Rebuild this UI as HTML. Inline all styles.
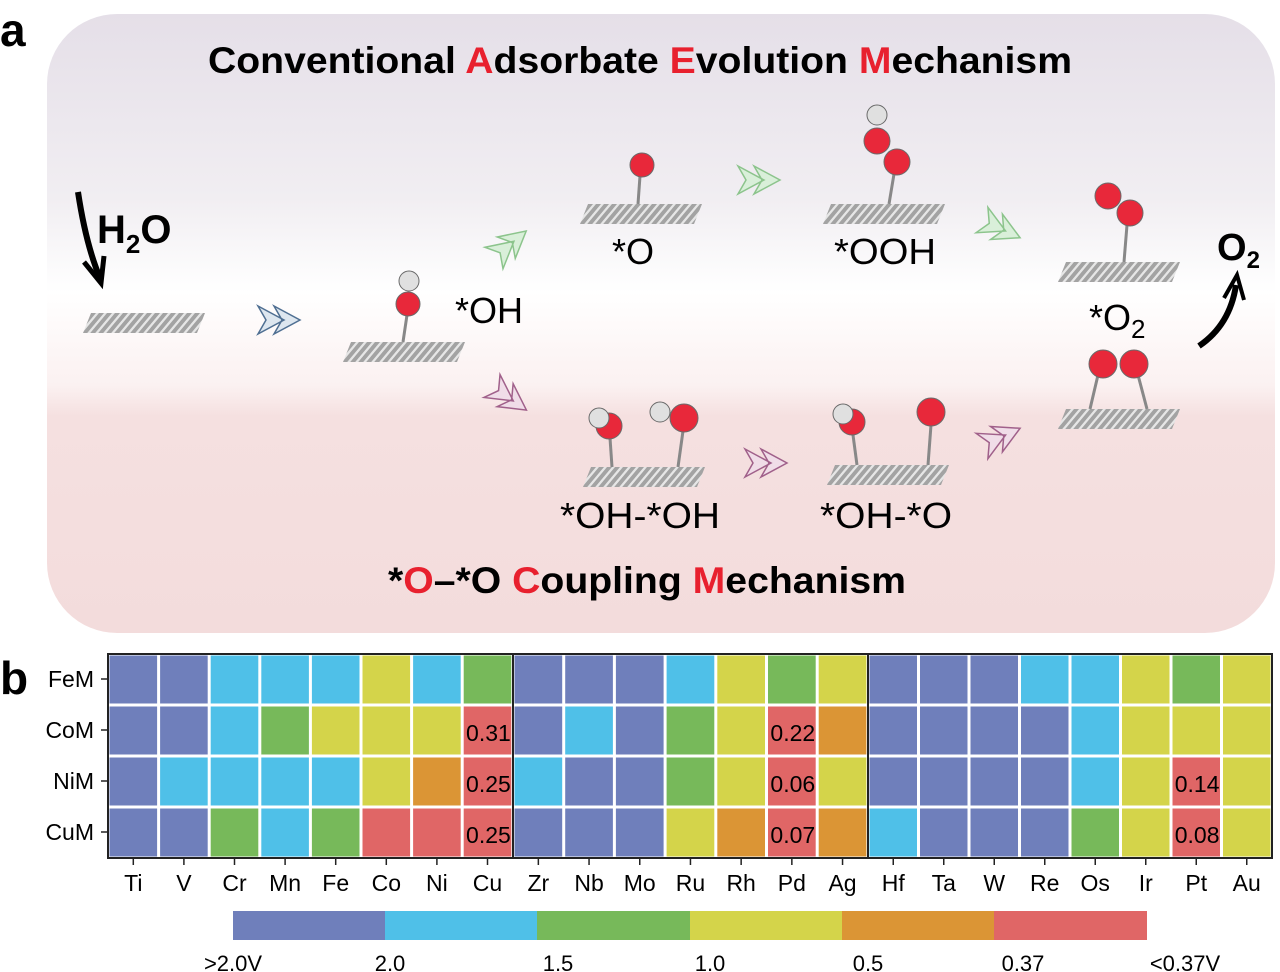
<!DOCTYPE html>
<html><head><meta charset="utf-8"><style>
html,body{margin:0;padding:0;background:#fff}
svg{display:block}
text{font-family:"Liberation Sans",sans-serif}
</style></head><body>
<svg width="1280" height="972" viewBox="0 0 1280 972" xmlns="http://www.w3.org/2000/svg">
<defs>
<linearGradient id="bg" x1="0" y1="0" x2="0" y2="1">
<stop offset="0" stop-color="#e5dfe8"/>
<stop offset="0.3" stop-color="#f1eef2"/>
<stop offset="0.45" stop-color="#ffffff"/>
<stop offset="0.6" stop-color="#fbf1f1"/>
<stop offset="0.65" stop-color="#f5e0e0"/>
<stop offset="1" stop-color="#f3dcdc"/>
</linearGradient>
<pattern id="hatch" width="8" height="20" patternUnits="userSpaceOnUse" patternTransform="skewX(-40)">
<rect width="8" height="20" fill="#e6e6e6"/>
<rect width="5" height="20" fill="#a3a3a3"/>
</pattern>
<g id="slab"><polygon points="8,0 122,0 114,20 0,20" fill="url(#hatch)"/></g>
<g id="chev"><path d="M0,-14 L26,0 L0,14 L8,0 Z M16,-14 L42,0 L16,14 L24,0 Z" stroke-width="1.5"/></g>
</defs>
<rect x="47" y="14" width="1228" height="619" rx="70" fill="url(#bg)"/>
<text x="0" y="46" font-size="46" font-weight="bold">a</text>
<text x="0" y="694" font-size="46" font-weight="bold">b</text>
<text x="208" y="73" font-size="37" font-weight="bold" textLength="864" lengthAdjust="spacingAndGlyphs">Conventional <tspan fill="#e8202e">A</tspan>dsorbate <tspan fill="#e8202e">E</tspan>volution <tspan fill="#e8202e">M</tspan>echanism</text>
<text x="388" y="593" font-size="37" font-weight="bold" textLength="518" lengthAdjust="spacingAndGlyphs">*<tspan fill="#e8202e">O</tspan>–*O <tspan fill="#e8202e">C</tspan>oupling <tspan fill="#e8202e">M</tspan>echanism</text>
<use href="#slab" x="83" y="313"/>
<use href="#slab" x="343" y="342"/>
<use href="#slab" x="580" y="204"/>
<use href="#slab" x="823" y="204"/>
<use href="#slab" x="1058" y="262"/>
<use href="#slab" x="1058" y="409"/>
<use href="#slab" x="583" y="467"/>
<use href="#slab" x="827" y="465"/>
<g stroke="#888" stroke-width="3">
<line x1="407" y1="315" x2="403" y2="342"/>
<line x1="640" y1="176" x2="638" y2="204"/>
<line x1="894" y1="174" x2="889" y2="204"/>
<line x1="1127" y1="225" x2="1124" y2="262"/>
<line x1="1098" y1="375" x2="1090" y2="409"/>
<line x1="1138" y1="375" x2="1147" y2="409"/>
<line x1="610" y1="438" x2="612" y2="467"/>
<line x1="683" y1="431" x2="678" y2="467"/>
<line x1="853" y1="435" x2="857" y2="465"/>
<line x1="931" y1="425" x2="928" y2="465"/>
</g>
<g stroke="#6a6a6a" stroke-width="1">
<circle cx="409" cy="281" r="10" fill="#e0e0e0"/>
<circle cx="408" cy="304" r="12" fill="#e8283a"/>
<circle cx="642" cy="165" r="12" fill="#e8283a"/>
<circle cx="877" cy="115" r="10" fill="#e0e0e0"/>
<circle cx="877" cy="141" r="13" fill="#e8283a"/>
<circle cx="897" cy="162" r="13" fill="#e8283a"/>
<circle cx="1108" cy="196" r="13" fill="#e8283a"/>
<circle cx="1130" cy="213" r="13" fill="#e8283a"/>
<circle cx="1103" cy="364" r="14" fill="#e8283a"/>
<circle cx="1134" cy="364" r="14" fill="#e8283a"/>
<circle cx="609" cy="426" r="13" fill="#e8283a"/>
<circle cx="599" cy="418" r="10" fill="#e0e0e0"/>
<circle cx="660" cy="412" r="10" fill="#e0e0e0"/>
<circle cx="684" cy="418" r="14" fill="#e8283a"/>
<circle cx="852" cy="422" r="13" fill="#e8283a"/>
<circle cx="843" cy="414" r="10" fill="#e0e0e0"/>
<circle cx="931" cy="412" r="14" fill="#e8283a"/>
</g>
<use href="#chev" transform="translate(258,320)" fill="#dde6ef" stroke="#4f6f92"/>
<use href="#chev" transform="translate(494,258) rotate(-40)" fill="#d9efd9" stroke="#8cc48c"/>
<use href="#chev" transform="translate(738,180)" fill="#d9efd9" stroke="#8cc48c"/>
<use href="#chev" transform="translate(982,220) rotate(25)" fill="#d9efd9" stroke="#8cc48c"/>
<use href="#chev" transform="translate(492,386) rotate(35)" fill="#f0dde8" stroke="#a0608a"/>
<use href="#chev" transform="translate(745,463)" fill="#f0dde8" stroke="#a0608a"/>
<use href="#chev" transform="translate(982,446) rotate(-25)" fill="#f0dde8" stroke="#a0608a"/>
<path d="M78,192 Q86,245 100,278" stroke="#000" stroke-width="6" fill="none"/>
<path d="M84,262 L101,283 L104,256" stroke="#000" stroke-width="5" fill="none"/>
<path d="M1199,346 Q1230,325 1236,285" stroke="#000" stroke-width="6" fill="none"/>
<path d="M1224,298 L1237,275 L1244,300" stroke="#000" stroke-width="4" fill="none"/>
<text x="97" y="243" font-size="40" font-weight="bold">H<tspan font-size="26" dy="10">2</tspan><tspan dy="-10">O</tspan></text>
<text x="455" y="323" font-size="36">*OH</text>
<text x="612" y="264" font-size="36">*O</text>
<text x="834" y="264" font-size="36" textLength="102" lengthAdjust="spacingAndGlyphs">*OOH</text>
<text x="1089" y="330" font-size="36">*O<tspan font-size="26" dy="8">2</tspan></text>
<text x="1217" y="260" font-size="38" font-weight="bold">O<tspan font-size="24" dy="8">2</tspan></text>
<text x="560" y="528" font-size="36" textLength="160" lengthAdjust="spacingAndGlyphs">*OH-*OH</text>
<text x="820" y="528" font-size="36" textLength="132" lengthAdjust="spacingAndGlyphs">*OH-*O</text>
<g id="hm"></g>
<rect x="108" y="654" width="1164" height="204" fill="none" stroke="#222" stroke-width="2"/>
<line x1="513" y1="654" x2="513" y2="858" stroke="#222" stroke-width="2"/>
<line x1="868" y1="654" x2="868" y2="858" stroke="#222" stroke-width="2"/>
<g id="ax"></g>
<rect x="233" y="911" width="153" height="29" fill="#6f7fbb"/>
<rect x="385" y="911" width="153" height="29" fill="#4fc0e8"/>
<rect x="537" y="911" width="153" height="29" fill="#77b95a"/>
<rect x="690" y="911" width="153" height="29" fill="#d4d44a"/>
<rect x="842" y="911" width="153" height="29" fill="#db9535"/>
<rect x="994" y="911" width="153" height="29" fill="#e06666"/>
<g font-size="22" text-anchor="middle">
<text x="233" y="971">&gt;2.0V</text><text x="390" y="971">2.0</text><text x="558" y="971">1.5</text>
<text x="710" y="971">1.0</text><text x="868" y="971">0.5</text><text x="1023" y="971">0.37</text><text x="1185" y="971">&lt;0.37V</text>
</g>
<script>
(function(){
var C={P:"#6f7fbb",C:"#4fc0e8",G:"#77b95a",Y:"#d4d44a",O:"#db9535",R:"#e06666"};
var data=[
"PPCCCYCGPPPCYGYPPPCCYGY",
"PPCGYYYRPCPGYROPPPPCYYY",
"PCCCCYORCPPGYRYPPPPCYRY",
"PPGCGRRRPPPYOROCPPPGYRY"];
var vals={"1,7":"0.31","1,13":"0.22","2,7":"0.25","2,13":"0.06","2,21":"0.14","3,7":"0.25","3,13":"0.07","3,21":"0.08"};
var names=["Ti","V","Cr","Mn","Fe","Co","Ni","Cu","Zr","Nb","Mo","Ru","Rh","Pd","Ag","Hf","Ta","W","Re","Os","Ir","Pt","Au"];
var xs=[];
for(var i=0;i<8;i++)xs.push([108+i*50.6,50.6]);
for(var i=0;i<7;i++)xs.push([513+i*50.7,50.7]);
for(var i=0;i<8;i++)xs.push([868+i*50.5,50.5]);
var ns="http://www.w3.org/2000/svg",g=document.getElementById("hm"),ax=document.getElementById("ax");
function el(p,t,a,txt){var e=document.createElementNS(ns,t);for(var k in a)e.setAttribute(k,a[k]);if(txt)e.textContent=txt;p.appendChild(e);return e;}
for(var r=0;r<4;r++)for(var c=0;c<23;c++){
 var x=xs[c][0],w=xs[c][1],y=654+r*51;
 el(g,"rect",{x:x+1.5,y:y+1.5,width:w-3,height:48,fill:C[data[r].charAt(c)]});
 var v=vals[r+","+c]; if(v) el(g,"text",{x:x+w-2,y:y+36,"font-size":23,"text-anchor":"end"},v);
}
var rl=["FeM","CoM","NiM","CuM"];
for(var r=0;r<4;r++){var y=679+r*51;el(ax,"line",{x1:101,y1:y,x2:108,y2:y,stroke:"#222","stroke-width":1.5});el(ax,"text",{x:94,y:y+8,"font-size":23,"text-anchor":"end"},rl[r]);}
for(var c=0;c<23;c++){var x=xs[c][0]+xs[c][1]/2;el(ax,"line",{x1:x,y1:858,x2:x,y2:865,stroke:"#222","stroke-width":1.5});el(ax,"text",{x:x,y:891,"font-size":23,"text-anchor":"middle"},names[c]);}
})();
</script>
</svg>
</body></html>
